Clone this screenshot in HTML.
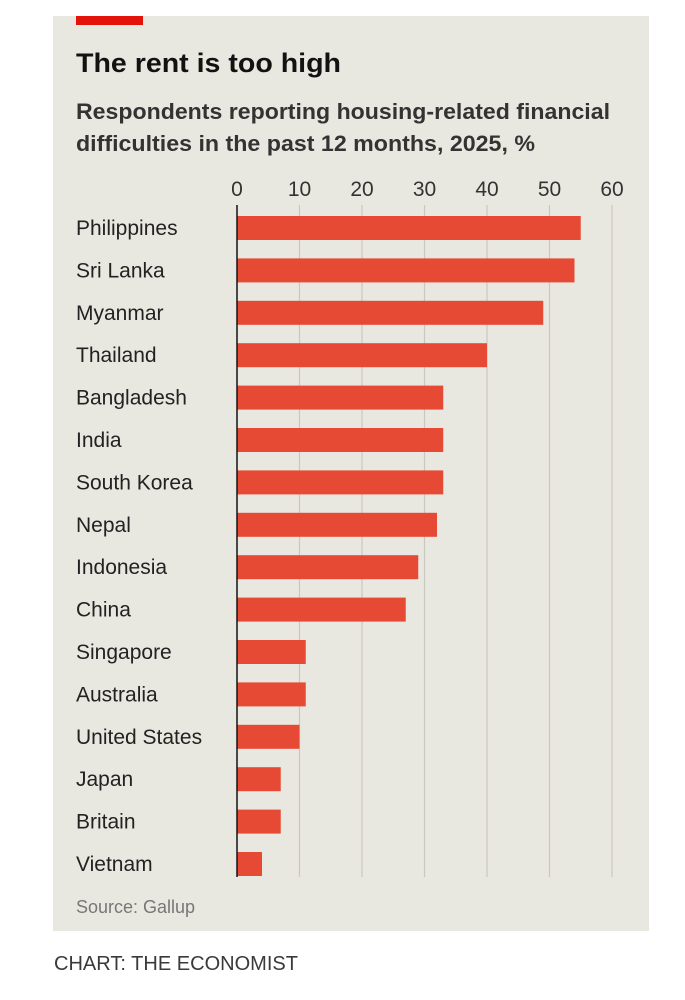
<!DOCTYPE html>
<html><head><meta charset="utf-8"><style>
html,body{margin:0;padding:0;background:#fff;width:685px;height:1000px;overflow:hidden}
</style></head><body>
<svg width="685" height="1000" xmlns="http://www.w3.org/2000/svg" font-family="'Liberation Sans Narrow','Liberation Sans',sans-serif">
<rect x="53" y="16" width="596" height="915" fill="#e9e8e0"/>
<rect x="76" y="16" width="67" height="9" fill="#e3120b"/>
<text x="76" y="72" font-size="27" font-weight="bold" fill="#121212" font-family="'Liberation Sans',sans-serif" textLength="265" lengthAdjust="spacingAndGlyphs">The rent is too high</text>
<text x="76" y="119" font-size="22" font-weight="bold" fill="#333" textLength="534" lengthAdjust="spacingAndGlyphs">Respondents reporting housing-related financial</text>
<text x="76" y="151" font-size="22" font-weight="bold" fill="#333" textLength="459" lengthAdjust="spacingAndGlyphs">difficulties in the past 12 months, 2025, %</text>
<g stroke="#c9c8c0" stroke-width="1.2">
<line x1="299.5" y1="205" x2="299.5" y2="877"/><line x1="362" y1="205" x2="362" y2="877"/><line x1="424.5" y1="205" x2="424.5" y2="877"/><line x1="487" y1="205" x2="487" y2="877"/><line x1="549.5" y1="205" x2="549.5" y2="877"/><line x1="612" y1="205" x2="612" y2="877"/>
</g>
<g font-size="21" fill="#333" text-anchor="middle">
<text x="237" y="196">0</text><text x="299.5" y="196">10</text><text x="362" y="196">20</text><text x="424.5" y="196">30</text><text x="487" y="196">40</text><text x="549.5" y="196">50</text><text x="612" y="196">60</text>
</g>
<g fill="#e64a35">
<rect x="237" y="216" width="343.75" height="24"/>
<rect x="237" y="258.4" width="337.5" height="24"/>
<rect x="237" y="300.8" width="306.25" height="24"/>
<rect x="237" y="343.2" width="250" height="24"/>
<rect x="237" y="385.6" width="206.25" height="24"/>
<rect x="237" y="428" width="206.25" height="24"/>
<rect x="237" y="470.4" width="206.25" height="24"/>
<rect x="237" y="512.8" width="200" height="24"/>
<rect x="237" y="555.2" width="181.25" height="24"/>
<rect x="237" y="597.6" width="168.75" height="24"/>
<rect x="237" y="640" width="68.75" height="24"/>
<rect x="237" y="682.4" width="68.75" height="24"/>
<rect x="237" y="724.8" width="62.5" height="24"/>
<rect x="237" y="767.2" width="43.75" height="24"/>
<rect x="237" y="809.6" width="43.75" height="24"/>
<rect x="237" y="852" width="25" height="24"/>
</g>
<line x1="237" y1="205" x2="237" y2="877" stroke="#121212" stroke-width="1.5"/>
<g font-size="21" fill="#222">
<text x="76" y="235">Philippines</text>
<text x="76" y="277.4">Sri Lanka</text>
<text x="76" y="319.8">Myanmar</text>
<text x="76" y="362.2">Thailand</text>
<text x="76" y="404.6">Bangladesh</text>
<text x="76" y="447">India</text>
<text x="76" y="489.4">South Korea</text>
<text x="76" y="531.8">Nepal</text>
<text x="76" y="574.2">Indonesia</text>
<text x="76" y="616.6">China</text>
<text x="76" y="659">Singapore</text>
<text x="76" y="701.4">Australia</text>
<text x="76" y="743.8">United States</text>
<text x="76" y="786.2">Japan</text>
<text x="76" y="828.6">Britain</text>
<text x="76" y="871">Vietnam</text>
</g>
<text x="76" y="913" font-size="18" fill="#777">Source: Gallup</text>
<text x="54" y="970" font-size="20" fill="#3a3a3a" textLength="244" lengthAdjust="spacingAndGlyphs">CHART: THE ECONOMIST</text>
</svg>
</body></html>
